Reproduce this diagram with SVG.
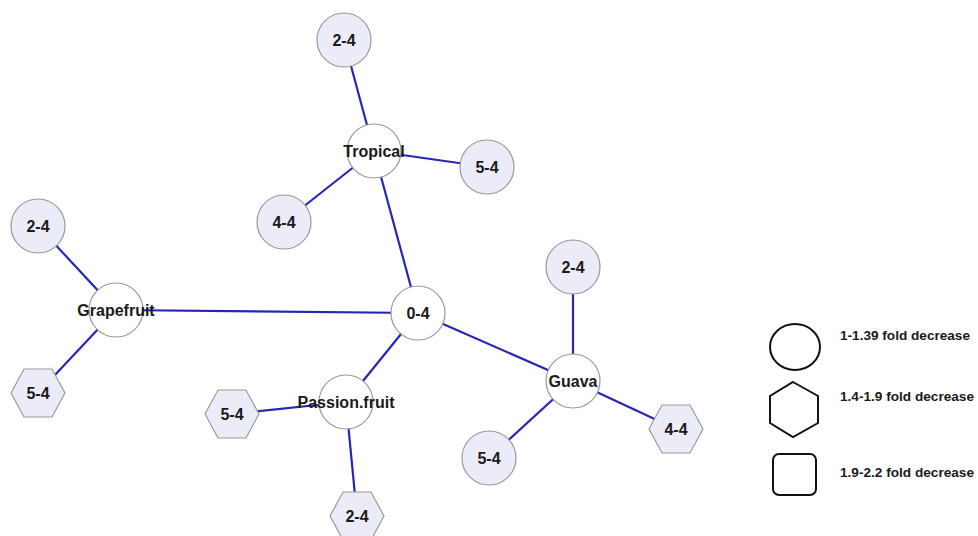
<svg xmlns="http://www.w3.org/2000/svg" width="978" height="536" viewBox="0 0 978 536">
<style>
.e{stroke:#2626b4;stroke-width:2.2;fill:none}
.c{fill:#ffffff;stroke:#9a9a9a;stroke-width:1.2}
.l{fill:#ececf8;stroke:#9a9a9a;stroke-width:1.2}
.t{font-family:"Liberation Sans",Arial,sans-serif;font-weight:bold;font-size:16px;fill:#1a1a1a;text-anchor:middle}
.g{fill:none;stroke:#111;stroke-width:2}
.lt{font-family:"Liberation Sans",Arial,sans-serif;font-weight:bold;font-size:12.5px;fill:#1a1a1a}
</style>
<defs>
<polygon id="hex" points="-27,0 -14,-24 14,-24 27,0 14,24 -14,24"/>
</defs>
<rect width="978" height="536" fill="#ffffff"/>
<g id="edges">
<line class="e" x1="344" y1="40" x2="374" y2="151"/>
<line class="e" x1="374" y1="151" x2="487" y2="167"/>
<line class="e" x1="374" y1="151" x2="284" y2="222"/>
<line class="e" x1="374" y1="151" x2="418" y2="313"/>
<line class="e" x1="418" y1="313" x2="116" y2="310"/>
<line class="e" x1="116" y1="310" x2="38" y2="226"/>
<line class="e" x1="116" y1="310" x2="38" y2="393"/>
<line class="e" x1="418" y1="313" x2="346" y2="402"/>
<line class="e" x1="346" y1="402" x2="232" y2="414"/>
<line class="e" x1="346" y1="402" x2="357" y2="516"/>
<line class="e" x1="418" y1="313" x2="573" y2="381"/>
<line class="e" x1="573" y1="381" x2="573" y2="267"/>
<line class="e" x1="573" y1="381" x2="676" y2="429"/>
<line class="e" x1="573" y1="381" x2="489" y2="458"/>
</g>
<g id="tropical-2-4"><circle class="l" cx="344" cy="40" r="27"/><text class="t" x="344" y="46">2-4</text></g>
<g id="tropical-5-4"><circle class="l" cx="487" cy="167" r="27"/><text class="t" x="487" y="173">5-4</text></g>
<g id="tropical-4-4"><circle class="l" cx="284" cy="222" r="27"/><text class="t" x="284" y="228">4-4</text></g>
<g id="tropical"><circle class="c" cx="374" cy="151" r="27"/><text class="t" x="374" y="157">Tropical</text></g>
<g id="grapefruit-2-4"><circle class="l" cx="38" cy="226" r="27"/><text class="t" x="38" y="232">2-4</text></g>
<g id="grapefruit-5-4"><use href="#hex" class="l" x="38" y="393"/><text class="t" x="38" y="399">5-4</text></g>
<g id="grapefruit"><circle class="c" cx="116" cy="310" r="27"/><text class="t" x="116" y="316">Grapefruit</text></g>
<g id="n0-4"><circle class="c" cx="418" cy="313" r="27"/><text class="t" x="418" y="319">0-4</text></g>
<g id="passion-5-4"><use href="#hex" class="l" x="232" y="414"/><text class="t" x="232" y="420">5-4</text></g>
<g id="passion-2-4"><use href="#hex" class="l" x="357" y="516"/><text class="t" x="357" y="522">2-4</text></g>
<g id="passion"><circle class="c" cx="346" cy="402" r="27"/><text class="t" x="346" y="408">Passion.fruit</text></g>
<g id="guava-2-4"><circle class="l" cx="573" cy="267" r="27"/><text class="t" x="573" y="273">2-4</text></g>
<g id="guava-4-4"><use href="#hex" class="l" x="676" y="429"/><text class="t" x="676" y="435">4-4</text></g>
<g id="guava-5-4"><circle class="l" cx="489" cy="458" r="27"/><text class="t" x="489" y="464">5-4</text></g>
<g id="guava"><circle class="c" cx="573" cy="381" r="27"/><text class="t" x="573" y="387">Guava</text></g>
<g id="legend">
<ellipse class="g" cx="795" cy="347" rx="25" ry="23"/>
<text class="lt" x="840" y="340" textLength="130" lengthAdjust="spacingAndGlyphs">1-1.39 fold decrease</text>
<polygon class="g" points="793,382 818,396 818,423 793,437 770,423 770,396"/>
<text class="lt" x="840" y="401" textLength="134" lengthAdjust="spacingAndGlyphs">1.4-1.9 fold decrease</text>
<rect class="g" x="773" y="454" width="43" height="41" rx="6"/>
<text class="lt" x="840" y="477" textLength="134" lengthAdjust="spacingAndGlyphs">1.9-2.2 fold decrease</text>
</g>
</svg>
